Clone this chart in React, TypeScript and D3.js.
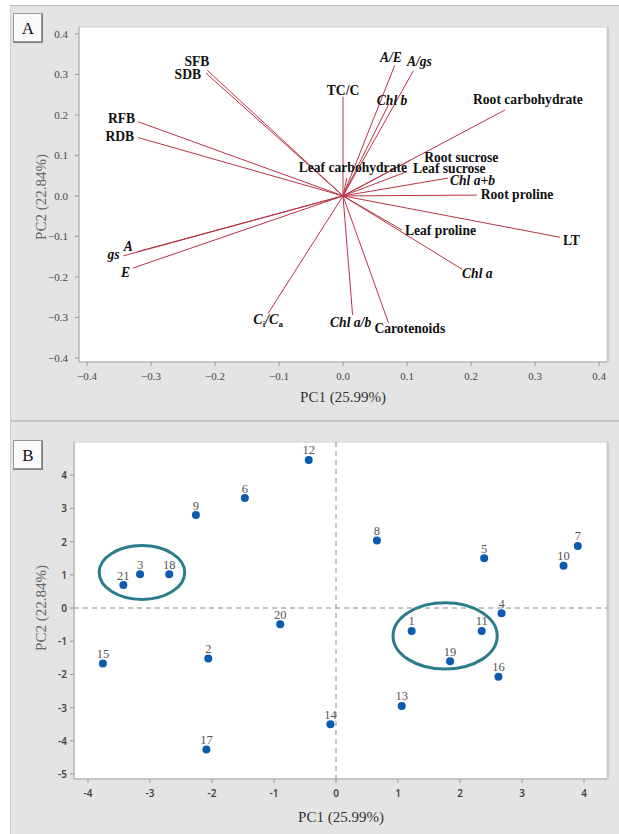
import * as d3 from "d3";
import React from "react";

// loadings (panel A)
const loadingNames = [
  "SFB", "SDB", "RFB", "RDB", "A", "gs", "E", "CiCa",
  "A/E", "A/gs", "TC/C", "Chl b", "Root carbohydrate", "Root sucrose",
  "Leaf sucrose", "Leaf carbohydrate", "Chl a+b", "Root proline",
  "LT", "Leaf proline", "Chl a", "Chl a/b", "Carotenoids",
];
const loadingPC1 = [
  -0.212, -0.214, -0.32, -0.32, -0.322, -0.343, -0.328, -0.117,
  0.081, 0.11, 0.0, 0.072, 0.253, 0.105,
  0.1, 0.006, 0.164, 0.209,
  0.339, 0.092, 0.186, 0.015, 0.071,
];
const loadingPC2 = [
  0.31, 0.303, 0.183, 0.144, -0.138, -0.148, -0.178, -0.29,
  0.323, 0.309, 0.245, 0.228, 0.212, 0.088,
  0.06, 0.044, 0.044, 0.002,
  -0.102, -0.084, -0.181, -0.294, -0.313,
];
const italicNames = ["A", "gs", "E", "CiCa", "A/E", "A/gs", "Chl b", "Chl a+b", "Chl a", "Chl a/b"];

// scores (panel B)
const scoreIds = [1, 2, 3, 4, 5, 6, 7, 8, 9, 10, 11, 12, 13, 14, 15, 16, 17, 18, 19, 20, 21];
const scorePC1 = [1.22, -2.06, -3.16, 2.67, 2.39, -1.47, 3.9, 0.66, -2.26, 3.67, 2.35, -0.44, 1.06, -0.09, -3.76, 2.62, -2.09, -2.69, 1.84, -0.9, -3.43];
const scorePC2 = [-0.69, -1.52, 1.02, -0.16, 1.5, 3.31, 1.87, 2.03, 2.8, 1.27, -0.69, 4.46, -2.95, -3.5, -1.67, -2.07, -4.26, 1.02, -1.6, -0.49, 0.69];

// groups circled in B: [centre PC1, centre PC2, half width, half height]
const groupEllipses = [
  [-3.13, 1.07, 0.69, 0.81],
  [1.76, -0.84, 0.84, 1.0],
];

const ticksA = [-0.4, -0.3, -0.2, -0.1, 0, 0.1, 0.2, 0.3, 0.4];
const ticksBx = [-4, -3, -2, -1, 0, 1, 2, 3, 4];
const ticksBy = [-5, -4, -3, -2, -1, 0, 1, 2, 3, 4];

// label placement for the loadings: anchor, dx, dy
const labelPlace = {
  SFB: ["end", 2, -4],
  SDB: ["end", -5, 6],
  RFB: ["end", -3, 1],
  RDB: ["end", -4, 3],
  A: ["end", -4, -1],
  gs: ["end", -4, 3],
  E: ["end", -3, 9],
  CiCa: ["middle", 0, 11],
  "A/E": ["middle", -4, -3],
  "A/gs": ["middle", 6, -5],
  "TC/C": ["middle", 0, -2],
  "Chl b": ["middle", 3, 1],
  "Root carbohydrate": ["middle", 23, -6],
  "Root sucrose": ["start", 14, 2],
  "Leaf sucrose": ["start", 6, 1],
  "Leaf carbohydrate": ["middle", 6, -6],
  "Chl a+b": ["start", 2, 7],
  "Root proline": ["start", 4, 4],
  LT: ["start", 3, 8],
  "Leaf proline": ["start", 3, 5],
  "Chl a": ["start", 0, 9],
  "Chl a/b": ["middle", -2, 12],
  Carotenoids: ["start", -14, 10],
};

const serif = "'Liberation Serif', 'Times New Roman', serif";
const sans = "'Noto Sans', 'Open Sans', sans-serif";
const vecColor = "#b83444";

function PanelButton({ y, label }) {
  return (
    <g>
      <rect x={13.5} y={y + 0.5} width={29} height={29} fill="#fafafa" stroke="#9a9a9a" />
      <line x1={14} y1={y + 29} x2={42} y2={y + 29} stroke="#777" strokeWidth={1.5} />
      <line x1={42} y1={y + 1} x2={42} y2={y + 29.5} stroke="#777" strokeWidth={1.5} />
      <text x={28} y={y + 21} textAnchor="middle" fontFamily={serif} fontSize={17} fill="#111">
        {label}
      </text>
    </g>
  );
}

function LoadingLabel({ name, x, y }) {
  const [anchor, dx, dy] = labelPlace[name];
  const italic = italicNames.includes(name);
  if (name === "CiCa") {
    return (
      <text x={x + dx} y={y + dy} textAnchor={anchor} fontFamily={serif} fontSize={14}
        fontWeight="bold" fontStyle="italic" fill="#111">
        C<tspan dy={3} fontSize={9} fontStyle="normal">i</tspan><tspan dy={-3}>/C</tspan><tspan dy={3} fontSize={9} fontStyle="normal">a</tspan>
      </text>
    );
  }
  return (
    <text x={x + dx} y={y + dy} textAnchor={anchor} fontFamily={serif} fontSize={13.6}
      fontWeight="bold" fontStyle={italic ? "italic" : "normal"} fill="#111">
      {name}
    </text>
  );
}

export default function App() {
  const W = 619, H = 834;

  // panel A
  const ax = { l: 79, r: 607, t: 27, b: 362 };
  const xA = d3.scaleLinear().domain([-0.4125, 0.4125]).range([ax.l, ax.r]);
  const yA = d3.scaleLinear().domain([-0.41, 0.417]).range([ax.b, ax.t]);

  // panel B
  const bx = { l: 74, r: 607, t: 442, b: 779 };
  const xB = d3.scaleLinear().domain([-4.226, 4.371]).range([bx.l, bx.r]);
  const yB = d3.scaleLinear().domain([-5.15, 5.0]).range([bx.b, bx.t]);

  const fmtA = (v) => (v === 0 ? "0.0" : d3.format(".1f")(v));

  return (
    <svg width={W} height={H} style={{ position: "absolute", left: 0, top: 0 }}>
      <rect x={0} y={0} width={W} height={H} fill="#fff" />
      {/* frames */}
      <rect x={10} y={5} width={W - 10} height={416} fill="#e4e4e4" />
      <line x1={10} y1={5.5} x2={W} y2={5.5} stroke="#b8b8b8" />
      <rect x={10} y={422} width={W - 10} height={H - 422} fill="#e4e4e4" />
      <line x1={10} y1={421} x2={W} y2={421} stroke="#c4c4c4" strokeWidth={2} />
      <line x1={10.5} y1={5} x2={10.5} y2={H} stroke="#d0d0d0" />

      {/* ---------- panel A ---------- */}
      <PanelButton y={13} label="A" />
      <rect x={ax.l} y={ax.t} width={ax.r - ax.l} height={ax.b - ax.t} fill="#fff" stroke="#cfcfcf" />
      <line x1={ax.r + 1} y1={ax.t} x2={ax.r + 1} y2={ax.b} stroke="#c4c4c4" strokeWidth={1.5} />
      <line x1={ax.l} y1={ax.t} x2={ax.l} y2={ax.b} stroke="#a8a8a8" />
      <line x1={ax.l} y1={ax.b} x2={ax.r} y2={ax.b} stroke="#a8a8a8" />
      {ticksA.map((t) => (
        <g key={"ay" + t}>
          <line x1={ax.l - 4} x2={ax.l} y1={yA(t)} y2={yA(t)} stroke="#999" />
          <text x={ax.l - 11} y={yA(t) + 4} textAnchor="end" fontFamily={serif} fontSize={11} fill="#444">
            {fmtA(t)}
          </text>
        </g>
      ))}
      {ticksA.map((t) => (
        <g key={"ax" + t}>
          <line x1={xA(t)} x2={xA(t)} y1={ax.b} y2={ax.b + 4} stroke="#999" />
          <text x={xA(t)} y={ax.b + 18} textAnchor="middle" fontFamily={serif} fontSize={11} fill="#444">
            {fmtA(t)}
          </text>
        </g>
      ))}
      <text x={343} y={402} textAnchor="middle" fontFamily={serif} fontSize={15} fill="#333">
        PC1 (25.99%)
      </text>
      <text transform={`translate(46,197) rotate(-90)`} textAnchor="middle" fontFamily={serif} fontSize={15} fill="#666">
        PC2 (22.84%)
      </text>
      {loadingNames.map((n, i) => (
        <line key={"v" + n} x1={xA(0)} y1={yA(0)} x2={xA(loadingPC1[i])} y2={yA(loadingPC2[i])}
          stroke={vecColor} strokeWidth={1} />
      ))}
      {loadingNames.map((n, i) => (
        <LoadingLabel key={"l" + n} name={n} x={xA(loadingPC1[i])} y={yA(loadingPC2[i])} />
      ))}

      {/* ---------- panel B ---------- */}
      <PanelButton y={440} label="B" />
      <rect x={bx.l} y={bx.t} width={bx.r - bx.l} height={bx.b - bx.t} fill="#fff" stroke="#cfcfcf" />
      <line x1={bx.r + 1} y1={bx.t} x2={bx.r + 1} y2={bx.b} stroke="#c4c4c4" strokeWidth={1.5} />
      <line x1={bx.l} y1={bx.t} x2={bx.l} y2={bx.b} stroke="#a8a8a8" />
      <line x1={bx.l} y1={bx.b} x2={bx.r} y2={bx.b} stroke="#a8a8a8" />
      <line x1={xB(0)} x2={xB(0)} y1={bx.t} y2={bx.b} stroke="#8a8a8a" strokeDasharray="5,4" />
      <line x1={bx.l} x2={bx.r} y1={yB(0)} y2={yB(0)} stroke="#8a8a8a" strokeDasharray="5,4" />
      {ticksBy.map((t) => (
        <g key={"by" + t}>
          <line x1={bx.l - 4} x2={bx.l} y1={yB(t)} y2={yB(t)} stroke="#999" />
          <text x={bx.l - 7} y={yB(t) + 4} textAnchor="end" fontFamily={sans} fontSize={10} fontWeight={600} fill="#444">
            {t}
          </text>
        </g>
      ))}
      {ticksBx.map((t) => (
        <g key={"bx" + t}>
          <line x1={xB(t)} x2={xB(t)} y1={bx.b} y2={bx.b + 4} stroke="#999" />
          <text x={xB(t)} y={bx.b + 18} textAnchor="middle" fontFamily={sans} fontSize={10} fontWeight={600} fill="#444">
            {t}
          </text>
        </g>
      ))}
      <text x={341} y={822} textAnchor="middle" fontFamily={serif} fontSize={15} fill="#333">
        PC1 (25.99%)
      </text>
      <text transform={`translate(46,608) rotate(-90)`} textAnchor="middle" fontFamily={serif} fontSize={15} fill="#666">
        PC2 (22.84%)
      </text>
      {groupEllipses.map((e, i) => (
        <ellipse key={"e" + i} cx={xB(e[0])} cy={yB(e[1])}
          rx={xB(e[2]) - xB(0)} ry={yB(0) - yB(e[3])}
          fill="none" stroke="#2b7d8c" strokeWidth={3} />
      ))}
      {scoreIds.map((id, i) => (
        <g key={"p" + id}>
          <circle cx={xB(scorePC1[i])} cy={yB(scorePC2[i])} r={4} fill="#0b5bb0" />
          <text x={xB(scorePC1[i])} y={yB(scorePC2[i]) - 5.5} textAnchor="middle" fontFamily={serif} fontSize={12.5} fill="#555">
            {id}
          </text>
        </g>
      ))}
    </svg>
  );
}
